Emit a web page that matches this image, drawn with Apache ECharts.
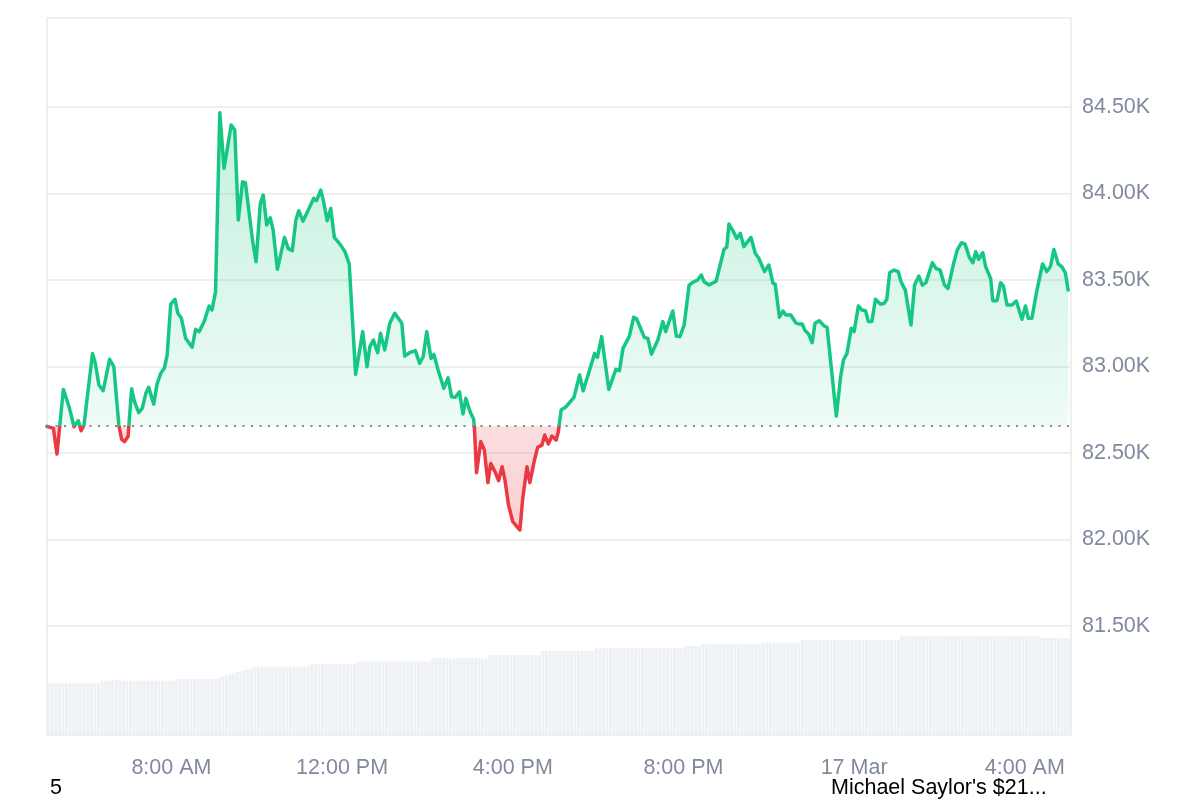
<!DOCTYPE html>
<html><head><meta charset="utf-8">
<script src="https://cdn.jsdelivr.net/npm/echarts@6/dist/echarts.min.js"></script>
<style>html,body{margin:0;padding:0;background:#fff}#c{width:1200px;height:800px}</style>
</head><body><div id="c"></div>
<script>
// ---- data (minutes since 16 Mar 00:00) ----
const openPrice = 82655;
const priceMinutes = [305,314,319,328,336,343,349,353,357,369,373,378,384,393,399,406,410,414,419,424,428,434,439,444,448,455,460,465,470,474,479,485,489,494,500,509,514,519,526,533,537,542,548,554,564,569,574,580,584,594,599,605,609,614,619,623,629,639,644,650,655,659,665,
680,684,690,694,699,704,709,717,724,730,739,749,755,759,764,770,774,780,787,794,804,808,815,823,829,834,839,845,849,855,863,869,874,879,885,890,894,900,905,906,909,915,920,925,929,935,940,945,949,954,960,970,974,980,984,990,995,1001,1005,1010,1015,1021,1024,
1028,1035,1046,1054,1059,1068,1075,1079,1085,1095,1105,1110,1115,1124,1130,1134,1145,1150,1155,1164,1171,1175,1185,1190,1195,1201,1208,1214,1220,1225,1229,1236,1246,1251,1257,1261,1264,1269,1275,1280,1285,1295,1301,1306,1314,1320,1326,1329,1335,1340,1344,1351,1358,1362,1367,1371,1376,1381,1385,
1391,1398,1402,1415,1421,1425,1430,1436,1440,1446,1451,1456,1460,1465,1470,1477,1482,1486,1490,1496,1502,1506,1512,1520,1525,1531,1536,1541,1550,1555,1561,1567,1572,1580,1585,1591,1596,1602,1607,1611,1615,1621,1625,1632,1635,1641,1646,1650,1655,1662,1668,1670,1676,1681,1685,1690,1697,1705,1711,1716,1721,1727,1732,1737,1741];
const priceValues = [82655,82643,82494,82868,82768,82652,82687,82629,82662,83076,83018,82893,82860,83042,82999,82662,82579,82566,82595,82872,82797,82733,82759,82845,82880,82783,82903,82961,82990,83067,83361,83389,83308,83279,83163,83111,83215,83202,83260,83350,83327,83432,84467,84146,84396,84367,83847,84068,84063,83731,83606,83943,83991,83818,83860,83789,83562,83747,83683,83670,83847,83901,83840,
83972,83959,84020,83953,83843,83914,83747,83708,83664,83593,82955,83202,82999,83115,83153,83080,83192,83096,83250,83308,83250,83061,83080,83092,83018,83057,83202,83047,83070,82980,82874,82935,82825,82822,82854,82726,82816,82739,82695,82650,82386,82566,82518,82329,82440,82392,82340,82421,82344,82200,82103,82055,82238,82421,82329,82450,82533,82546,82604,82552,82598,82575,82623,
82749,82768,82822,82951,82860,82980,83076,83053,83173,82868,82984,82976,83105,83176,83285,83277,83169,83163,83072,83153,83260,83202,83321,83176,83173,83240,83471,83490,83500,83529,83490,83471,83494,83577,83677,83693,83824,83789,83741,83770,83693,83747,83655,83626,83549,83587,83481,83477,83285,83321,83298,83298,83253,83246,83246,83208,83188,83138,83250,
83265,83234,83227,82714,82941,83038,83076,83221,83202,83350,83327,83323,83260,83260,83389,83361,83365,83389,83543,83558,83549,83490,83442,83240,83471,83523,83471,83485,83600,83568,83558,83471,83452,83597,83673,83716,83708,83632,83600,83664,83620,83658,83577,83510,83381,83381,83485,83465,83356,83356,83379,83375,83273,83350,83279,83279,83439,83593,83549,83577,83677,83593,83577,83543,83442];
// volume per 5-minute slot (billions)
const volumeValues = [
17.3,17.3,17.3,17.3,17.3,17.3,17.3,17.3,17.3,17.3,17.3,17.3,17.3,17.3,17.3,
18.2,18.2,18.2,18.5,18.5,18.2,18.2,18.2,18.2,18.2,18.2,18.2,18.2,18.2,18.2,18.2,18.2,18.2,18.2,18.2,18.2,
18.7,18.7,18.7,18.7,18.7,18.7,18.7,18.7,18.7,18.7,18.7,18.7,
19.4,19.7,20.0,20.4,20.8,21.2,21.5,21.8,22.1,22.3,
22.9,22.9,22.9,22.9,22.9,22.9,22.9,22.9,22.9,22.9,22.9,22.9,22.9,22.9,22.9,22.9,
23.7,23.7,23.7,23.7,23.7,23.7,23.7,23.7,23.7,23.7,23.7,23.7,23.7,
24.6,24.6,24.6,24.6,24.6,24.6,24.6,24.6,24.6,24.6,24.6,24.6,24.6,24.6,24.6,24.6,24.6,24.6,24.6,24.6,24.6,
25.7,25.7,25.7,25.7,25.7,25.7,25.7,25.7,25.7,25.7,25.7,25.7,25.7,25.7,25.7,25.7,
26.8,26.8,26.8,26.8,26.8,26.8,26.8,26.8,26.8,26.8,26.8,26.8,26.8,26.8,26.8,
28.1,28.1,28.1,28.1,28.1,28.1,28.1,28.1,28.1,28.1,28.1,28.1,28.1,28.1,28.1,
29.0,29.0,29.0,29.0,29.0,29.0,29.0,29.0,29.0,29.0,29.0,29.0,29.0,29.0,29.0,29.0,29.0,29.0,29.0,29.0,29.0,29.0,29.0,29.0,29.0,
29.8,29.8,29.8,29.8,29.8,
30.5,30.5,30.5,30.5,30.5,30.5,30.5,30.5,30.5,30.5,30.5,30.5,30.5,30.5,30.5,30.5,30.5,
31.0,31.0,31.0,31.0,31.0,31.0,31.0,31.0,31.0,31.0,31.0,
31.8,31.8,31.8,31.8,31.8,31.8,31.8,31.8,31.8,31.8,31.8,31.8,31.8,31.8,31.8,31.8,31.8,31.8,31.8,31.8,31.8,31.8,31.8,31.8,31.8,31.8,31.8,31.8,
33.1,33.1,33.1,33.1,33.1,33.1,33.1,33.1,33.1,33.1,33.1,33.1,33.1,33.1,33.1,33.1,33.1,33.1,33.1,33.1,33.1,33.1,33.1,33.1,33.1,33.1,33.1,33.1,33.1,33.1,33.1,33.1,33.1,33.1,33.1,33.1,33.1,33.1,33.1,
32.5,32.5,32.5,32.5,32.5,32.5,32.5,32.5,32.5];
const volumeStartMinute = 305;
const slotMinutes = 5;
const yTickValues = [81500,82000,82500,83000,83500,84000,84500];
const xTickMinutes = [480,720,960,1200,1440,1680];
const footerLeftText = '5';
const footerRightText = "Michael Saylor's $21...";

// ---- build ----
const FONT = '"Liberation Sans", Arial, Helvetica, sans-serif';
const GREEN = '#16c784', RED = '#ea3943', LABEL = '#808a9d', GRIDC = '#e8eaed';
const Y_MIN = 80870, Y_MAX = 85015;
const volumeSlots = volumeValues.map((_, i) => String(volumeStartMinute + i * slotMinutes));
const priceData = priceMinutes.map((t, i) => [t, priceValues[i]]);
const pMax = Math.max(...priceValues), pMin = Math.min(...priceValues);
const baseStop = (pMax - openPrice) / (pMax - pMin);

function fmtTime(m) {
  if (m % 1440 === 0) return m === 1440 ? '17 Mar' : '16 Mar';
  const h = Math.floor(m / 60) % 24;
  const mm = String(m % 60).padStart(2, '0');
  const h12 = h % 12 === 0 ? 12 : h % 12;
  return h12 + ':' + mm + ' ' + (h < 12 ? 'AM' : 'PM');
}

const chart = echarts.init(document.getElementById('c'), null, {renderer: 'canvas'});
chart.setOption({
  animation: false,
  backgroundColor: '#fff',
  grid: {left: 47, right: 129, top: 18, bottom: 65, show: true, borderColor: GRIDC, borderWidth: 1.5, backgroundColor: 'transparent'},
  xAxis: [{
    type: 'value', min: 305, max: 1745,
    axisLine: {show: false}, axisTick: {show: false}, splitLine: {show: false},
    axisLabel: {customValues: xTickMinutes, formatter: fmtTime, color: LABEL, fontSize: 21.5, fontFamily: FONT, margin: 22}
  }, {
    type: 'category', data: volumeSlots, show: false, boundaryGap: true
  }],
  yAxis: [{
    type: 'value', position: 'right', min: Y_MIN, max: Y_MAX,
    axisLine: {show: false},
    axisTick: {show: false, customValues: yTickValues},
    splitLine: {show: true, lineStyle: {color: GRIDC, width: 1.5}},
    axisLabel: {customValues: yTickValues, formatter: v => (v / 1000).toFixed(2) + 'K', color: LABEL, fontSize: 21.5, fontFamily: FONT, margin: 11}
  }, {
    type: 'value', min: 0, max: 240, show: false, splitLine: {show: false}
  }],
  visualMap: [{
    type: 'piecewise', show: false, seriesIndex: 0, dimension: 1,
    pieces: [{gt: openPrice, lte: Y_MAX, color: GREEN}, {gte: Y_MIN, lte: openPrice, color: RED}],
    outOfRange: {color: GREEN}
  }],
  series: [{
    type: 'line', xAxisIndex: 0, yAxisIndex: 0, data: priceData,
    showSymbol: false, symbol: 'none', z: 3, silent: true,
    lineStyle: {width: 3.5, cap: 'round', join: 'round'},
    areaStyle: {
      origin: openPrice, opacity: 1,
      color: {type: 'linear', x: 0, y: 0, x2: 0, y2: 1, colorStops: [
        {offset: 0, color: 'rgba(22,199,132,0.26)'},
        {offset: baseStop, color: 'rgba(22,199,132,0.07)'},
        {offset: baseStop, color: 'rgba(234,57,67,0.17)'},
        {offset: 1, color: 'rgba(234,57,67,0.24)'}
      ]}
    },
    markLine: {
      silent: true, symbol: 'none', label: {show: false},
      lineStyle: {color: '#7f8898', width: 2, type: [2, 6.5]},
      data: [{yAxis: openPrice}]
    }
  }, {
    type: 'bar', xAxisIndex: 1, yAxisIndex: 1, data: volumeValues,
    barCategoryGap: '15%', silent: true, z: 1,
    itemStyle: {color: '#edf1f5'}
  }],
  graphic: [
    {type: 'text', left: 50, top: 777, style: {text: footerLeftText, fill: '#000', font: '21.5px ' + FONT}},
    {type: 'text', left: 831, top: 777, style: {text: footerRightText, fill: '#000', font: '21.5px ' + FONT}}
  ]
});
</script>
</body></html>
